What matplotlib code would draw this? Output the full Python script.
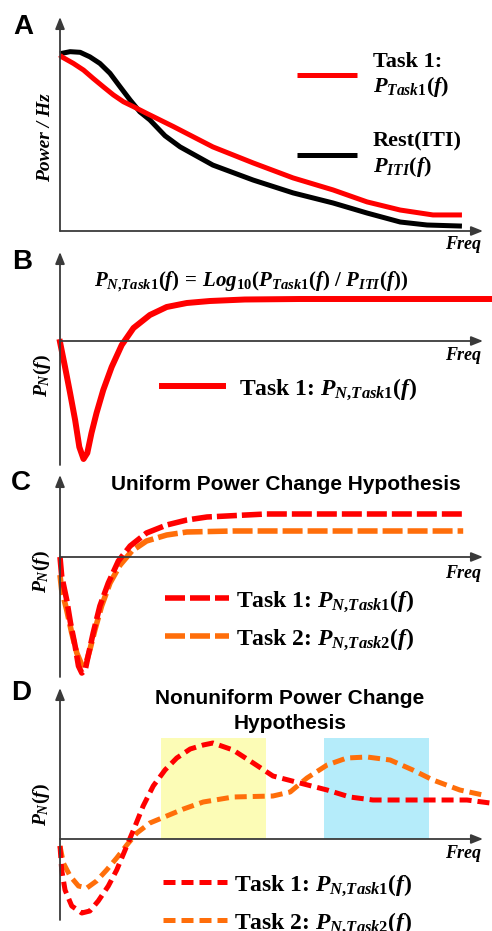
import matplotlib
matplotlib.use("Agg")
import matplotlib.pyplot as plt
from matplotlib.patches import Rectangle

plt.rcParams['mathtext.fontset'] = 'custom'
plt.rcParams['mathtext.it'] = 'Liberation Serif:italic:bold'
plt.rcParams['mathtext.rm'] = 'Liberation Serif:bold'
plt.rcParams['mathtext.bf'] = 'Liberation Serif:bold'

W, H = 492, 931
RED = '#FF0000'
ORANGE = '#FF6E0A'
AXC = '#3a3a3a'

# ---- Panel A: raw spectra (freq a.u., power a.u.) ----
a_task1_f = [0, 0.4, 3.2, 5.6, 7.9, 10.3, 12.7, 15.1, 17.5, 20.6, 23.8, 27, 36.4, 46, 55.5,
             65, 73.1, 81, 88.8, 95.7]
a_task1_p = [82.2, 81.4, 78.3, 75.2, 71.3, 67.4, 63.6, 60.4, 58.1, 55.0, 51.9, 48.8, 39.3, 31.8,
             24.8, 19.2, 13.6, 9.8, 7.5, 7.5]
a_iti_f = [0, 0.4, 2.4, 4.8, 7.1, 9.5, 11.9, 14.3, 16.7, 19, 21.4, 25, 28.6, 36.4, 46, 55.5,
           65, 73.1, 81, 87.4, 95.7]
a_iti_p = [82.8, 83.0, 83.8, 83.5, 81.4, 78.3, 73.7, 67.4, 61.2, 55.7, 51.9, 44.5, 39.3, 30.8,
           23.8, 17.8, 13.1, 8.4, 4.2, 2.8, 2.3]

# ---- Panel B: normalised spectrum ----
b_f = [0, 1.2, 2.4, 3.6, 4.6, 5.6, 6.5, 7.5, 8.7, 10.3, 12.3, 14.7, 17.5, 21.4, 25.4, 30.2,
       35.7, 44, 57.1, 102.4]
b_pn = [-0.1, -2.6, -5.2, -7.9, -10.6, -11.8, -11.2, -9.2, -7.2, -4.9, -2.6, -0.4, 1.3, 2.6,
        3.4, 3.8, 4.0, 4.15, 4.2, 4.2]

# ---- Panel C: uniform hypothesis ----
c_task1_f = [0, 0.4, 1.6, 2.5, 3.6, 4.4, 5.2, 6.0, 6.7, 7.9, 9.5, 11.5, 13.9, 16.7, 20.6, 25.4,
             30.2, 35, 49, 96]
c_task1_pn = [0, -1.9, -4.3, -6.6, -8.9, -10.9, -11.6, -11.3, -9.9, -7.6, -4.9, -2.6, -0.4, 1.1,
              2.4, 3.2, 3.7, 4.0, 4.3, 4.3]
c_task2_f = [0, 0.4, 1.6, 2.8, 4.0, 5.2, 6.2, 7.1, 8.3, 9.9, 11.9, 14.3, 17.1, 20.6, 25.4, 30.2,
             41.2, 96]
c_task2_pn = [-1.8, -3.3, -5.3, -7.6, -9.6, -10.8, -10.6, -9.3, -7.3, -4.9, -2.6, -0.8, 0.6, 1.6,
              2.2, 2.5, 2.6, 2.6]

# ---- Panel D: nonuniform hypothesis ----
d_task1_f = [0, 0.4, 1.2, 2.8, 5.2, 7.1, 9.1, 11.5, 13.5, 15.5, 17.5, 19.8, 22.2, 25, 27.8, 31,
             34.1, 36.4, 41.2, 46, 50.7, 57.1, 63.6, 69, 74.5, 81, 88.8, 96.9, 102.4]
d_task1_pn = [-0.7, -3.1, -5.1, -6.7, -7.4, -7.2, -6.2, -4.7, -3.1, -1.1, 0.9, 3.3, 5.3, 6.9,
              8.1, 9.0, 9.4, 9.6, 8.9, 7.6, 6.3, 5.6, 4.9, 4.2, 3.9, 3.9, 3.9, 3.9, 3.6]
d_task2_f = [0, 0.8, 2.4, 4.4, 6.4, 8.7, 11.1, 13.5, 15.9, 18.3, 21.4, 25.4, 29.4, 34.1, 41.2,
             50.7, 54.8, 58.8, 63.6, 68.3, 73.1, 78.6, 84, 88.8, 95.2, 100.7]
d_task2_pn = [-0.7, -2.4, -3.7, -4.7, -4.9, -4.2, -3.1, -1.9, -0.6, 0.6, 1.6, 2.3, 3.0, 3.7, 4.2,
              4.3, 4.7, 6.1, 7.4, 8.1, 8.2, 7.9, 6.9, 5.9, 4.9, 4.4]
yellow_band = [24.0, 49.0]
blue_band = [62.9, 87.9]
band_top = 10.1

PX_PER_F = 4.2
X0 = 60


def px(x, y):
    return x / W, 1 - y / H


def make_panel(fig, tip_px, axis_px, bottom_px, px_per_unit):
    """Axes whose origin sits at (X0, axis_px) in figure pixels"""
    ax = fig.add_axes([X0 / W, 1 - bottom_px / H, (W - X0) / W, (bottom_px - tip_px) / H])
    ax.set_xlim(0, (W - X0) / PX_PER_F)
    ax.set_ylim((axis_px - bottom_px) / px_per_unit, (axis_px - tip_px) / px_per_unit)
    ax.axis('off')
    arrow = dict(arrowstyle='-|>,head_length=0.7,head_width=0.28', color=AXC, lw=1.3,
                 shrinkA=0, shrinkB=0)
    ax.annotate('', xy=((483 - X0) / PX_PER_F, 0), xytext=(0, 0), arrowprops=arrow,
                zorder=10, annotation_clip=False)
    ymin, ymax = ax.get_ylim()
    ax.annotate('', xy=(0, ymax), xytext=(0, ymin), arrowprops=arrow,
                zorder=10, annotation_clip=False)
    return ax


fig = plt.figure(figsize=(W / 100, H / 100), dpi=100)

serif = dict(family='Liberation Serif', weight='bold')
letter = dict(family='Liberation Sans', weight='bold', fontsize=20, ha='center', va='center')
freq = dict(family='Liberation Serif', weight='bold', style='italic', fontsize=13,
            ha='right', va='center')
pn_label = r'$\mathit{P}_{\mathit{N}}\mathit{(f)}$'
task1_lab = r'Task 1: $\mathit{P}_{\mathit{N{,}Task1}}\mathit{(f)}$'
task2_lab = r'Task 2: $\mathit{P}_{\mathit{N{,}Task2}}\mathit{(f)}$'
smooth = dict(solid_joinstyle='round', dash_joinstyle='round', clip_on=False)

# ---- A ----
ax = make_panel(fig, 17, 231, 231, 2.14)
ax.plot(a_task1_f, a_task1_p, color=RED, lw=3.6, solid_capstyle='butt', zorder=3,
        label='Task 1:\n' + r'$\mathit{P}_{\mathit{Task1}}\mathit{(f)}$', **smooth)
ax.plot(a_iti_f, a_iti_p, color='black', lw=3.6, solid_capstyle='butt', zorder=2,
        label='Rest(ITI)\n' + r'$\mathit{P}_{\mathit{ITI}}\mathit{(f)}$', **smooth)
ax.legend(loc='upper left', bbox_to_anchor=px(297, 52), bbox_transform=fig.transFigure,
          frameon=False, prop=dict(size=16, **serif), handlelength=2.7, handletextpad=0.7,
          labelspacing=1.45, borderpad=0, borderaxespad=0)
fig.text(*px(23, 27), 'A', **letter)
fig.text(*px(46, 138), 'Power / Hz', family='Liberation Serif', weight='bold', style='italic',
         fontsize=14, rotation=90, ha='center', va='center')
fig.text(*px(481, 245), 'Freq', **freq)

# ---- B ----
ax = make_panel(fig, 252, 341, 465, 10)
ax.plot(b_f, b_pn, color=RED, lw=4.3, zorder=3, label=task1_lab, **smooth)
ax.legend(loc='center left', bbox_to_anchor=px(162, 389), bbox_transform=fig.transFigure,
          frameon=False, prop=dict(size=17, **serif), handlelength=2.6, handletextpad=0.65,
          borderpad=0, borderaxespad=0)
fig.text(*px(22, 262), 'B', **letter)
fig.text(*px(251, 282),
         r'$\mathit{P}_{\mathit{N{,}Task1}}\mathit{(f)\,=\,Log}_{\mathit{10}}'
         r'\mathit{(P}_{\mathit{Task1}}\mathit{(f)\ /\ P}_{\mathit{ITI}}\mathit{(f))}$',
         fontsize=15, ha='center', va='center')
fig.text(*px(42, 376), pn_label, fontsize=14, rotation=90, ha='center', va='center')
fig.text(*px(481, 355), 'Freq', **freq)

# ---- C ----
ax = make_panel(fig, 475, 557, 677, 10)
ax.plot(c_task1_f, c_task1_pn, color=RED, lw=4, dashes=(3.6, 0.9), zorder=3,
        label=task1_lab, **smooth)
ax.plot(c_task2_f, c_task2_pn, color=ORANGE, lw=4, dashes=(3.6, 0.9), zorder=2,
        label=task2_lab, **smooth)
ax.legend(loc='upper left', bbox_to_anchor=px(165, 589), bbox_transform=fig.transFigure,
          frameon=False, prop=dict(size=17, **serif), handlelength=2.7, handletextpad=0.3,
          labelspacing=0.55, borderpad=0, borderaxespad=0)
fig.text(*px(21, 483), 'C', **letter)
fig.text(*px(286, 485), 'Uniform Power Change Hypothesis', family='Liberation Sans',
         weight='bold', fontsize=15, ha='center', va='center')
fig.text(*px(41, 572), pn_label, fontsize=14, rotation=90, ha='center', va='center')
fig.text(*px(481, 573), 'Freq', **freq)

# ---- D ----
ax = make_panel(fig, 688, 839, 920, 10)
ax.add_patch(Rectangle((yellow_band[0], 0), yellow_band[1] - yellow_band[0], band_top,
                       facecolor='#FCFCB6', edgecolor='none', zorder=1))
ax.add_patch(Rectangle((blue_band[0], 0), blue_band[1] - blue_band[0], band_top,
                       facecolor='#B5ECFA', edgecolor='none', zorder=1))
ax.plot(d_task1_f, d_task1_pn, color=RED, lw=3.6, dashes=(2.4, 1.2), zorder=3,
        label=task1_lab, **smooth)
ax.plot(d_task2_f, d_task2_pn, color=ORANGE, lw=3.6, dashes=(2.4, 1.2), zorder=2,
        label=task2_lab, **smooth)
ax.legend(loc='upper left', bbox_to_anchor=px(163, 873), bbox_transform=fig.transFigure,
          frameon=False, prop=dict(size=17, **serif), handlelength=2.7, handletextpad=0.3,
          labelspacing=0.55, borderpad=0, borderaxespad=0)
fig.text(*px(21, 693), 'D', **letter)
fig.text(*px(290, 711), 'Nonuniform Power Change\nHypothesis', family='Liberation Sans',
         weight='bold', fontsize=15, ha='center', va='center', linespacing=1.45)
fig.text(*px(41, 805), pn_label, fontsize=14, rotation=90, ha='center', va='center')
fig.text(*px(481, 853), 'Freq', **freq)

fig.savefig('out.png', dpi=100)
